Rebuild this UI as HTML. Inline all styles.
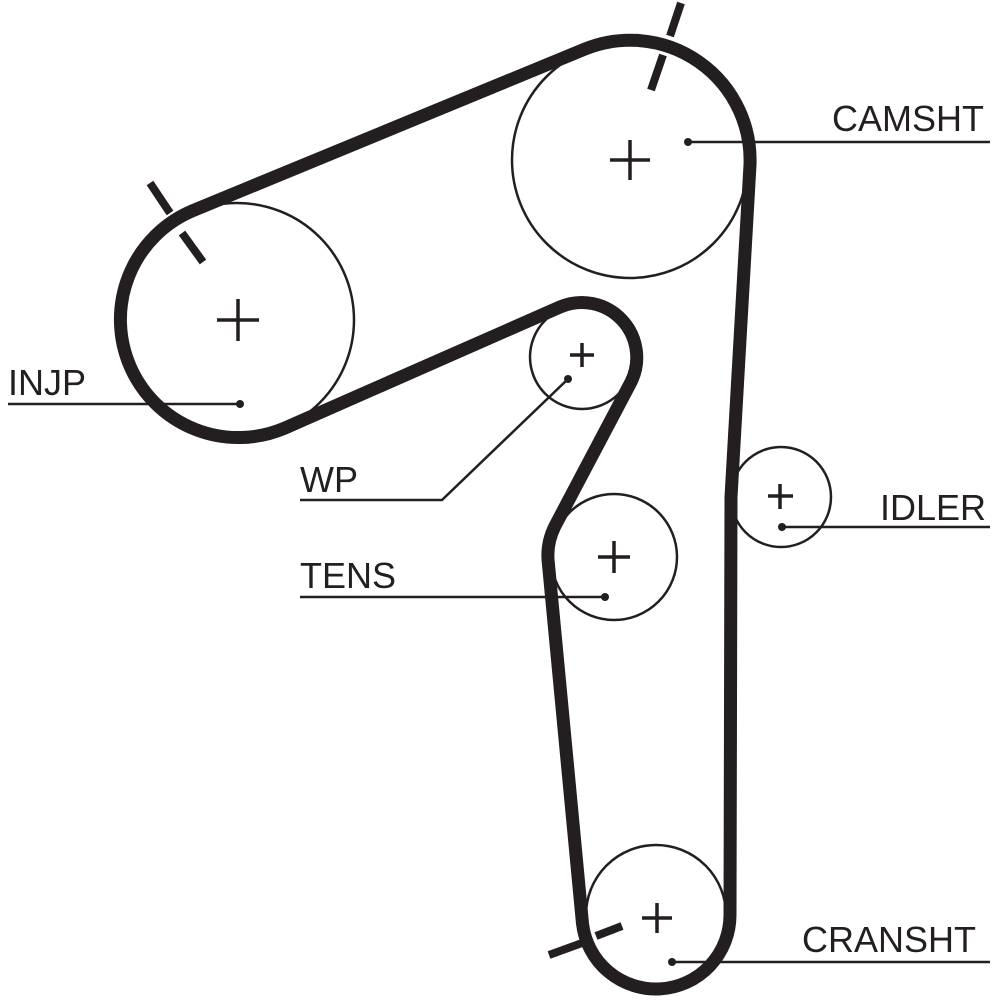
<!DOCTYPE html>
<html><head><meta charset="utf-8"><style>
html,body{margin:0;padding:0;background:#fff}
svg{display:block}
text{font-family:"Liberation Sans",sans-serif;fill:#231f20}
</style></head><body>
<svg width="1000" height="1000" viewBox="0 0 1000 1000">
<g fill="none" stroke="#231f20" stroke-width="2.5">
<circle cx="630" cy="160" r="118"/>
<circle cx="237" cy="320" r="117"/>
<circle cx="582" cy="357" r="52"/>
<circle cx="614" cy="557" r="63"/>
<circle cx="781" cy="497" r="50"/>
<circle cx="656" cy="915" r="70"/>
</g>
<path d="M585 49 L192 211 A118 118 0 1 0 285 428 L560 307 A55 55 0 0 1 631 382 L555 526 A66 66 0 0 0 548.5 564.7 L582.5 923.6 A74 74 0 0 0 730 915 L731 497 L750 165 A120 120 0 0 0 585 49 Z" fill="none" stroke="#231f20" stroke-width="13" stroke-linejoin="round"/>
<g stroke="#231f20" stroke-width="8">
<line x1="681" y1="3" x2="670" y2="36"/>
<line x1="663" y1="55" x2="651" y2="90"/>
<line x1="150" y1="183" x2="170" y2="213"/>
<line x1="182" y1="233" x2="203" y2="262"/>
<line x1="549" y1="955" x2="582" y2="943"/>
<line x1="596" y1="936" x2="622" y2="926"/>
</g>
<g stroke="#231f20" stroke-width="3.5">
<path d="M610 160h40M630 140v40"/>
<path d="M217 320h42M238 299v42"/>
<path d="M570 355h24M582 343v24"/>
<path d="M598 557h32M614 541v32"/>
<path d="M768 496h25M780 484v25"/>
<path d="M642 918h30M657 903v30"/>
</g>
<g stroke="#231f20" stroke-width="2.5" fill="none">
<path d="M688 142H990"/>
<path d="M8 404H240"/>
<path d="M300 500H442L568 379"/>
<path d="M300 597H605"/>
<path d="M782 527H990"/>
<path d="M672 962H990"/>
</g>
<g fill="#231f20">
<circle cx="688" cy="142" r="4"/>
<circle cx="240" cy="404" r="4"/>
<circle cx="568" cy="379" r="4"/>
<circle cx="605" cy="597" r="4"/>
<circle cx="782" cy="527" r="4"/>
<circle cx="672" cy="962" r="4"/>
</g>
<g font-size="36">
<text x="832" y="131">CAMSHT</text>
<text x="8" y="395">INJP</text>
<text x="300" y="492">WP</text>
<text x="300" y="588">TENS</text>
<text x="880" y="520">IDLER</text>
<text x="802" y="952">CRANSHT</text>
</g>
</svg>
</body></html>
